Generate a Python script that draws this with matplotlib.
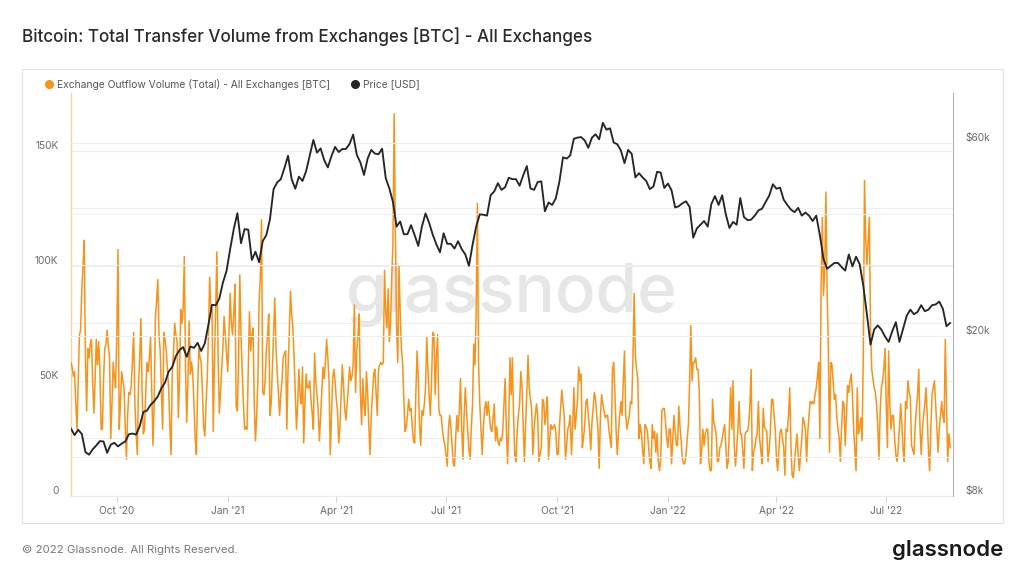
import matplotlib
matplotlib.use("Agg")
import matplotlib.pyplot as plt
import matplotlib.dates as mdates
from matplotlib.ticker import FixedLocator, NullFormatter
from matplotlib.patches import Rectangle
from matplotlib.lines import Line2D
import pandas as pd

plt.rcParams['font.family'] = ['Inter', 'DejaVu Sans']

# Exchange outflow volume, daily from 2020-08-24, thousands of BTC
outflow_2020 = [
    58, 56, 52, 54, 40, 29, 50, 70, 72, 90,
    100, 111, 60, 37, 64, 60, 66, 68, 50, 36,
    50, 68, 57, 67, 55, 29, 29, 50, 64, 66,
    72, 65, 60, 25, 40, 58, 52, 47, 70, 107,
    29, 40, 54, 50, 47, 30, 16, 35, 45, 44,
    48, 60, 71, 40, 28, 18, 48, 60, 77, 45,
    27, 29, 45, 58, 54, 60, 69, 45, 22, 40,
    77, 85, 94, 70, 63, 45, 29, 71, 68, 63,
    55, 47, 30, 18, 53, 62, 75, 70, 67, 34,
    50, 81, 75, 81, 104, 55, 32, 50, 76, 53,
    58, 53, 40, 25, 18, 45, 64, 60, 58, 45,
    30, 26, 40, 51, 70, 95, 81, 81, 28, 60,
    81, 106, 60, 36, 45, 55, 65, 78, 70, 62,
    54, 70, 88, 75, 70, 80, 92, 39, 37, 60,
    96, 70, 54, 40, 29, 30, 29, 55, 80, 63,
    70, 73, 40, 24, 35, 50, 84, 95, 120, 45,
    44, 50, 63, 70, 79, 35, 40, 55, 70, 86,
    65, 54, 45, 35, 44, 50, 60, 62, 63, 29,
]
outflow_2021a = [
    55, 70, 89, 79, 73, 60, 44, 29, 40, 55,
    44, 40, 56, 23, 40, 53, 47, 47, 50, 42,
    36, 29, 62, 50, 44, 37, 24, 35, 47, 56,
    51, 58, 68, 60, 50, 18, 35, 51, 55, 50,
    42, 37, 23, 30, 44, 57, 48, 38, 33, 40,
    47, 56, 50, 52, 57, 83, 45, 63, 70, 79,
    44, 31, 51, 40, 35, 54, 45, 30, 18, 35,
    44, 53, 55, 45, 35, 55, 57, 58, 57, 58,
    98, 80, 73, 90, 67, 75, 95, 110, 166, 116,
    73, 58, 100, 80, 64, 58, 42, 28, 30, 35,
    42, 37, 38, 30, 24, 23, 45, 63, 51, 31,
    22, 37, 35, 40, 47, 69, 55, 44, 35, 50,
    71, 70, 44, 60, 70, 38, 35, 35, 29, 25,
    22, 18, 13, 29, 35, 30, 22, 14, 13, 25,
    35, 28, 37, 51, 30, 16, 35, 47, 37, 28,
    20, 16, 30, 40, 66, 57, 80, 127, 57, 40,
    29, 18, 30, 38, 41, 35, 41, 35, 29, 28,
    34, 40, 24, 30, 24, 22, 25, 24, 28, 40,
    51, 30, 14, 31, 60,
]
outflow_2021b = [
    44, 60, 35, 18, 15, 28, 35, 40, 54, 48,
    30, 15, 31, 45, 61, 47, 42, 38, 18, 29,
    35, 40, 35, 15, 18, 21, 42, 41, 31, 36,
    43, 16, 25, 31, 29, 30, 31, 28, 18, 18,
    30, 38, 46, 40, 35, 16, 22, 29, 31, 35,
    18, 30, 47, 29, 35, 41, 56, 50, 53, 21,
    25, 31, 41, 42, 35, 29, 20, 32, 38, 45,
    42, 35, 29, 12, 34, 44, 40, 37, 34, 35,
    35, 29, 25, 21, 55, 58, 45, 29, 18, 28,
    35, 41, 35, 50, 63, 35, 29, 32, 35, 41,
    40, 60, 88, 61, 55, 51, 25, 31, 27, 20,
    14, 31, 30, 28, 21, 15, 12, 31, 25, 28,
    19, 27, 15, 11, 16, 37, 38, 38, 32, 25,
    21, 29, 29, 14, 25, 35, 28, 22, 22, 39,
    30, 24, 16, 14, 14, 18, 25, 31, 50, 74,
    50, 58, 58, 60, 55, 55, 45, 14, 20, 29,
    22, 27, 29, 29, 15, 11, 11, 42, 32, 30,
    27, 15, 15, 21, 22, 25, 28, 31, 22, 12,
    15, 30, 47, 29,
]
outflow_2022 = [
    50, 22, 13, 20, 29, 41, 27, 27, 20, 12,
    27, 28, 28, 31, 40, 55, 11, 19, 21, 25,
    27, 41, 25, 20, 14, 38, 30, 29, 28, 15,
    20, 29, 42, 42, 35, 29, 16, 11, 20, 28,
    29, 25, 21, 9, 29, 28, 35, 47, 22, 9,
    8, 15, 21, 27, 18, 11, 18, 25, 34, 32,
    29, 15, 28, 35, 41, 40, 41, 40, 44, 47,
    52, 58, 25, 90, 121, 87, 98, 132, 90, 64,
    19, 58, 57, 50, 42, 44, 35, 29, 25, 15,
    30, 41, 40, 22, 35, 48, 45, 50, 53, 44,
    29, 20, 11, 47, 27, 30, 34, 24, 60, 137,
    112, 100, 111, 121, 73, 55, 51, 47, 45, 40,
    30, 16, 37, 47, 50, 55, 64, 40, 21, 63,
    40, 29, 35, 35, 25, 18, 15, 21, 30, 40,
    31, 20, 15, 41, 38, 50, 45, 43, 22, 20,
    18, 30, 38, 44, 55, 30, 18, 29, 35, 40,
    47, 35, 20, 11, 29, 44, 47, 50, 40, 30,
    19, 29, 35, 41, 35, 32, 68, 40, 15, 27,
    21,
]
outflow_k = outflow_2020 + outflow_2021a + outflow_2021b + outflow_2022

# BTC price every 3 days from 2020-08-24, thousands of USD
price_k = [
    11.76, 11.33, 11.68, 11.40, 10.28, 10.13, 10.44, 10.68, 10.95, 10.92,
    10.24, 10.73, 10.84, 10.62, 10.79, 10.92, 11.38, 11.43, 11.36, 11.92,
    12.93, 13.03, 13.46, 13.74, 14.13, 14.82, 15.29, 16.29, 16.72, 17.80,
    18.41, 18.73, 17.72, 18.80, 18.65, 19.19, 18.32, 19.14, 21.31, 23.86,
    23.78, 24.71, 27.08, 28.95, 32.78, 36.77, 40.25, 33.92, 36.77, 36.63,
    30.83, 32.29, 30.43, 34.32, 35.51, 38.90, 46.20, 48.00, 48.90, 52.10,
    55.90, 48.90, 46.30, 49.60, 48.40, 51.20, 55.90, 61.20, 56.90, 58.30,
    54.50, 52.30, 55.80, 58.80, 57.10, 58.10, 58.10, 59.80, 63.10, 56.20,
    53.80, 50.10, 55.00, 57.80, 56.60, 56.40, 58.20, 49.20, 46.40, 42.90,
    37.30, 38.40, 35.70, 35.70, 37.60, 35.50, 33.40, 37.30, 40.20, 38.10,
    35.60, 33.70, 32.20, 35.90, 33.80, 33.80, 32.90, 34.30, 32.80, 31.80,
    29.80, 33.60, 37.30, 40.00, 39.90, 39.70, 44.60, 45.60, 47.80, 46.00,
    46.70, 49.30, 48.90, 48.90, 47.10, 50.00, 52.70, 46.40, 46.00, 48.10,
    48.30, 40.70, 42.80, 42.20, 43.80, 48.20, 55.40, 55.00, 56.00, 61.60,
    62.00, 62.20, 61.00, 58.50, 62.00, 63.20, 61.40, 67.50, 64.90, 65.40,
    60.30, 59.70, 57.60, 53.60, 57.80, 56.50, 49.40, 50.60, 49.40, 48.40,
    46.20, 46.90, 51.00, 50.80, 46.50, 47.70, 45.90, 41.60, 41.90, 42.60,
    43.10, 41.70, 35.00, 36.90, 37.70, 38.50, 37.30, 42.40, 44.40, 42.20,
    44.60, 40.00, 37.00, 38.30, 37.70, 43.90, 39.40, 38.70, 38.80, 39.70,
    40.90, 41.30, 42.90, 44.50, 47.50, 46.30, 46.60, 43.50, 42.20, 41.10,
    40.50, 41.50, 39.70, 40.40, 39.70, 38.50, 39.70, 35.50, 31.00, 29.30,
    29.80, 30.30, 30.30, 29.60, 29.00, 31.80, 29.70, 31.40, 30.10, 26.60,
    22.60, 19.00, 20.70, 21.20, 20.70, 19.90, 19.30, 20.50, 21.60, 19.30,
    20.80, 22.40, 23.20, 22.60, 22.90, 23.80, 23.00, 23.20, 23.80, 23.90,
    24.30, 23.30, 21.10, 21.50,
]

outflow_dates = pd.date_range("2020-08-24", periods=len(outflow_k), freq="D")
price_dates = pd.date_range("2020-08-24", periods=len(price_k), freq="3D")
outflow = [v * 1000 for v in outflow_k]
price = [v * 1000 for v in price_k]

left_ticks = [0, 50000, 100000, 150000]
left_labels = ['0', '50K', '100K', '150K']
left_minor = [25000, 75000, 125000]
right_ticks = [8000, 20000, 60000]
right_labels = ['$8k', '$20k', '$60k']
right_minor = [10000, 30000, 40000]

ORANGE = '#f7931a'
DARK = '#262626'
GRID = '#eeeeee'
LABEL = '#6b6b6b'

fig = plt.figure(figsize=(10.24, 5.76), dpi=100)
fig.patches.append(Rectangle((0.0215, 0.092), 0.958, 0.788, transform=fig.transFigure,
                             fill=False, edgecolor='#e2e2e2', linewidth=0.8))

ax = fig.add_axes([0.0693, 0.1389, 0.8613, 0.6996])
ax2 = ax.twinx()

ax.text(0.5, 0.5, 'glassnode', transform=ax.transAxes, ha='center', va='center',
        fontsize=48.5, color='#e6e6e6', fontweight='medium', zorder=0)

ax.plot(outflow_dates, outflow, color=ORANGE, linewidth=1.1, zorder=3)
ax2.plot(price_dates, price, color=DARK, linewidth=1.35, zorder=3)

ax.set_xlim(pd.Timestamp("2020-08-24"), pd.Timestamp("2022-08-25 08:00"))
ax.set_ylim(0, 175000)
ax2.set_yscale('log')
ax2.set_ylim(8000, 80000)

# x axis
ax.xaxis.set_major_locator(mdates.MonthLocator(bymonth=[1, 4, 7, 10]))
ax.xaxis.set_major_formatter(mdates.DateFormatter("%b '%y"))
ax.tick_params(axis='x', length=4, width=0.8, color='#d6d6d6', labelsize=7.3,
               labelcolor=LABEL, pad=3)

# left axis
ax.yaxis.set_major_locator(FixedLocator(left_ticks))
ax.set_yticklabels(left_labels)
ax.yaxis.set_minor_locator(FixedLocator(left_minor))
ax.yaxis.set_minor_formatter(NullFormatter())
ax.tick_params(axis='y', which='both', length=0, labelsize=7.3, labelcolor=LABEL, pad=9)
for lbl in ax.get_yticklabels():
    lbl.set_va('bottom')
ax.grid(axis='y', which='both', color=GRID, linewidth=0.8)
ax.set_axisbelow(True)

# right axis
ax2.yaxis.set_major_locator(FixedLocator(right_ticks))
ax2.set_yticklabels(right_labels)
ax2.yaxis.set_minor_locator(FixedLocator(right_minor))
ax2.yaxis.set_minor_formatter(NullFormatter())
ax2.tick_params(axis='y', which='both', length=0, labelsize=7.3, labelcolor=LABEL, pad=9)
for lbl in ax2.get_yticklabels():
    lbl.set_va('bottom')
ax2.grid(axis='y', which='both', color=GRID, linewidth=0.8)
ax2.set_axisbelow(True)

for a in (ax, ax2):
    a.spines['top'].set_visible(False)
ax.spines['right'].set_visible(False)
ax2.spines['left'].set_visible(False)
ax2.spines['bottom'].set_visible(False)
ax.spines['left'].set_color('#fad3a5')
ax.spines['left'].set_linewidth(1.0)
ax.spines['bottom'].set_color('#ececec')
ax2.spines['right'].set_color('#b5b5b5')
ax2.spines['right'].set_linewidth(0.8)

# legend
fig.add_artist(Line2D([0.0479], [0.854], marker='o', markersize=5.5, color=ORANGE,
                      transform=fig.transFigure))
fig.text(0.0557, 0.854, 'Exchange Outflow Volume (Total) - All Exchanges [BTC]',
         fontsize=7.4, color='#555555', va='center')
fig.add_artist(Line2D([0.3467], [0.854], marker='o', markersize=5.5, color=DARK,
                      transform=fig.transFigure))
fig.text(0.3545, 0.854, 'Price [USD]', fontsize=7.4, color='#555555', va='center')

# title and footer
fig.text(0.0215, 0.9358, 'Bitcoin: Total Transfer Volume from Exchanges [BTC] - All Exchanges',
         fontsize=12.3, fontweight='medium', color='#2b2b2b', va='center')
fig.text(0.0215, 0.045, '\u00a9 2022 Glassnode. All Rights Reserved.', fontsize=8.2,
         color='#777777', va='center')
fig.text(0.9795, 0.045, 'glassnode', ha='right', va='center', fontsize=16,
         fontweight='semibold', color='#1a1a1a')

fig.savefig('out.png', dpi=100)
